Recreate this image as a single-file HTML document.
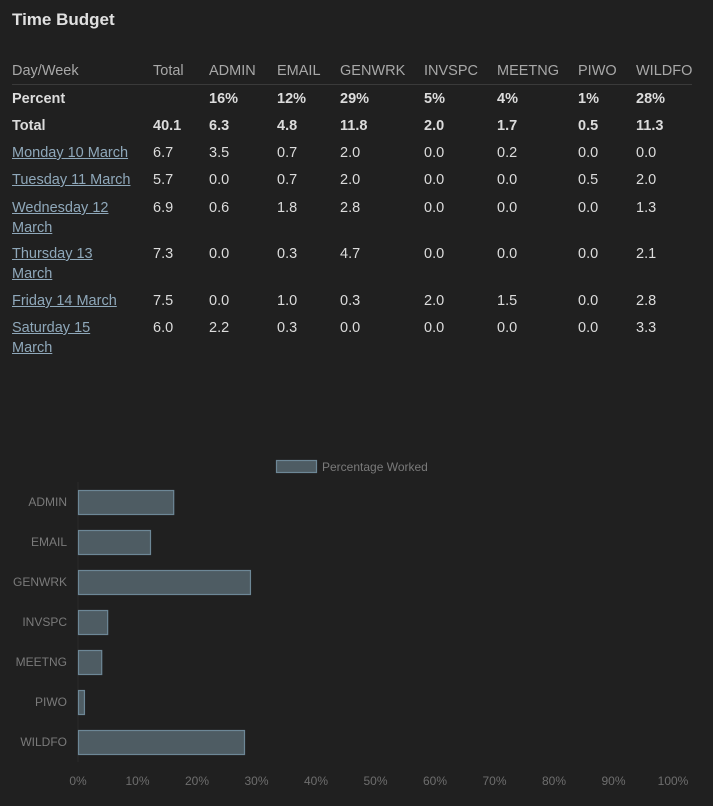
<!DOCTYPE html>
<html><head><meta charset="utf-8"><style>
body{margin:0;background:#202020;width:713px;height:806px;overflow:hidden;font-family:"Liberation Sans",sans-serif;position:relative}
.a{position:absolute;white-space:nowrap;font-size:14.5px;color:#dcdcdc;line-height:20px}
.h{color:#a8a8a8}
.b{font-weight:bold}
.l{color:#8fa8ba;text-decoration:underline}
svg text{font-family:"Liberation Sans",sans-serif}
</style></head><body>
<div class="a b" style="left:12px;top:10px;font-size:17px;color:#e0e0e0">Time Budget</div>
<div style="position:absolute;left:12px;top:84px;width:680px;height:1px;background:#3a3a3a"></div>
<div id="tbl"></div>
<svg id="chart" width="713" height="806" style="position:absolute;left:0;top:0"></svg>
<script>
const cols=[12,153,209,277,340,424,497,578,636];
const headers=["Day/Week","Total","ADMIN","EMAIL","GENWRK","INVSPC","MEETNG","PIWO","WILDFO"];
const rows=[
 {t:61,cls:"h",cells:headers},
 {t:89,cls:"b",cells:["Percent","","16%","12%","29%","5%","4%","1%","28%"]},
 {t:116,cls:"b",cells:["Total","40.1","6.3","4.8","11.8","2.0","1.7","0.5","11.3"]},
 {t:143,link:1,cells:["Monday 10 March","6.7","3.5","0.7","2.0","0.0","0.2","0.0","0.0"]},
 {t:170,link:1,cells:["Tuesday 11 March","5.7","0.0","0.7","2.0","0.0","0.0","0.5","2.0"]},
 {t:198,link:1,cells:["Wednesday 12 <br>March","6.9","0.6","1.8","2.8","0.0","0.0","0.0","1.3"]},
 {t:244,link:1,cells:["Thursday 13 <br>March","7.3","0.0","0.3","4.7","0.0","0.0","0.0","2.1"]},
 {t:291,link:1,cells:["Friday 14 March","7.5","0.0","1.0","0.3","2.0","1.5","0.0","2.8"]},
 {t:318,link:1,cells:["Saturday 15 <br>March","6.0","2.2","0.3","0.0","0.0","0.0","0.0","3.3"]}
];
const tbl=document.getElementById('tbl');
rows.forEach((r,ri)=>r.cells.forEach((c,i)=>{
 const d=document.createElement('div');
 d.className='a '+(r.cls||'')+(r.link&&i==0?' l':'');
 d.style.left=cols[i]+'px';d.style.top=r.t+'px';d.innerHTML=c;
 
 
 tbl.appendChild(d);
}));

const categories=["ADMIN","EMAIL","GENWRK","INVSPC","MEETNG","PIWO","WILDFO"];
const values=[16,12.1,28.9,4.9,3.9,1,27.9];
const tickLabels=[0,10,20,30,40,50,60,70,80,90,100];
const svg=document.getElementById('chart');
const NS='http://www.w3.org/2000/svg';
const x=v=>78+v*5.95;
const y=i=>482+i*40;
function el(t,a,txt){const e=document.createElementNS(NS,t);for(const k in a)e.setAttribute(k,a[k]);if(txt!=null)e.textContent=txt;svg.appendChild(e);return e;}
const ax=el('line',{x1:78,x2:78,y1:482,y2:762,stroke:'#2a2a2a'});


tickLabels.forEach(t=>{
 const e=el('text',{x:x(t),y:785,'text-anchor':'middle','font-size':12,fill:'#6e6e6e'},t+'%');
 
 
});
categories.forEach((c,i)=>{
 const e=el('text',{x:67,y:y(i)+24,'text-anchor':'end','font-size':12,fill:'#7a7a7a'},c);
 
 
 const b=el('rect',{x:78.5,y:y(i)+8.5,width:x(values[i])-78,height:24,fill:'#4e5c63',stroke:'#6d8796','stroke-width':1.2});
 
 
});
const lg=el('rect',{x:276.5,y:460.5,width:40,height:12,fill:'#4e5c63',stroke:'#6d8796','stroke-width':1.2});


const lt=el('text',{x:322,y:471,'font-size':12,fill:'#7a7a7a'},'Percentage Worked');


</script>
</body></html>
